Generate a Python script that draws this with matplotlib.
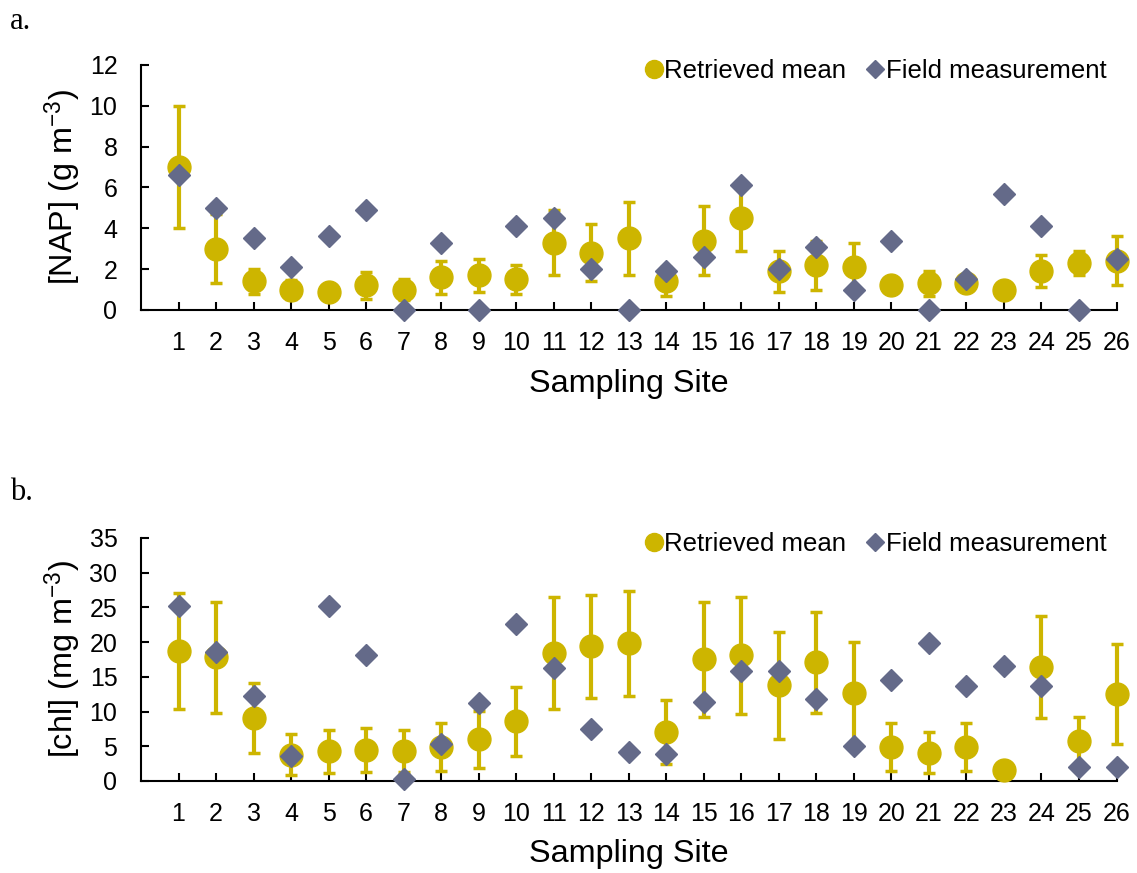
import numpy as np
import matplotlib
matplotlib.use('Agg')
import matplotlib.pyplot as plt
from matplotlib.lines import Line2D

plt.rcParams['font.family'] = ['Liberation Sans', 'DejaVu Sans']
plt.rcParams['mathtext.fontset'] = 'custom'
plt.rcParams['mathtext.rm'] = 'Liberation Sans'
plt.rcParams['mathtext.it'] = 'Liberation Sans'
plt.rcParams['mathtext.default'] = 'regular'

# Sampling sites
sites = list(range(1, 27))

# Panel a: NAP (g m-3)
nap_mean = [7.0, 3.0, 1.4, 1.0, 0.9, 1.2, 1.0, 1.6, 1.7, 1.5, 3.3, 2.8, 3.5,
            1.4, 3.4, 4.5, 1.9, 2.2, 2.1, 1.2, 1.3, 1.3, 1.0, 1.9, 2.3, 2.4]
nap_err = [3.0, 1.7, 0.6, 0.45, 0.3, 0.65, 0.5, 0.8, 0.8, 0.7, 1.6, 1.4, 1.8,
           0.7, 1.7, 1.6, 1.0, 1.2, 1.2, 0.3, 0.6, 0.3, 0.2, 0.8, 0.6, 1.2]
nap_field = [6.6, 5.0, 3.5, 2.1, 3.6, 4.9, 0.0, 3.3, 0.0, 4.1, 4.5, 2.0, 0.0,
             1.9, 2.6, 6.1, 2.0, 3.1, 1.0, 3.4, 0.0, 1.5, 5.7, 4.1, 0.0, 2.5]

# Panel b: chl (mg m-3)
chl_mean = [18.7, 17.8, 9.1, 3.8, 4.3, 4.5, 4.3, 4.9, 6.0, 8.6, 18.4, 19.4, 19.8,
            7.1, 17.5, 18.1, 13.8, 17.1, 12.7, 4.9, 4.1, 4.9, 1.6, 16.4, 5.7, 12.5]
chl_err = [8.4, 8.0, 5.0, 3.0, 3.1, 3.2, 3.0, 3.5, 4.1, 5.0, 8.1, 7.4, 7.5,
           4.6, 8.3, 8.4, 7.7, 7.3, 7.3, 3.4, 2.9, 3.4, 0.0, 7.3, 3.5, 7.2]
chl_field = [25.2, 18.6, 12.3, 3.6, 25.2, 18.1, 0.3, 5.3, 11.3, 22.6, 16.2, 7.5, 4.2,
             3.9, 11.4, 15.8, 15.8, 11.8, 5.0, 14.6, 19.9, 13.7, 16.6, 13.7, 2.0, 2.0]

gold = '#CDB500'
slate = '#646A89'

fig = plt.figure(figsize=(11.37, 8.73), dpi=100)
ax1 = fig.add_axes([0.124, 0.645, 0.858, 0.2806])
ax2 = fig.add_axes([0.124, 0.1054, 0.858, 0.2784])


def draw(ax, mean, err, field, ymax, ystep, ylabel):
    ax.errorbar(sites, mean, yerr=err, fmt='none', ecolor=gold, elinewidth=3,
                capsize=4, capthick=2.5, zorder=2, clip_on=False)
    ax.plot(sites, mean, 'o', color=gold, markersize=16.5, zorder=3, clip_on=False)
    ax.plot(sites, field, 'D', color=slate, markersize=11.5, zorder=4, clip_on=False)
    ax.set_xlim(0, 26)
    ax.set_ylim(0, ymax)
    ax.set_xticks(sites)
    ax.set_yticks(np.arange(0, ymax + 0.1, ystep))
    for s in ['top', 'right']:
        ax.spines[s].set_visible(False)
    for s in ['left', 'bottom']:
        ax.spines[s].set_linewidth(1.5)
    ax.tick_params(axis='both', direction='in', length=5.5, width=1.5, labelsize=18)
    ax.tick_params(axis='y', pad=17)
    ax.tick_params(axis='x', pad=15)
    ax.set_xlabel('Sampling Site', fontsize=23.3)
    ax.xaxis.set_label_coords(0.5, -0.24)
    ax.set_ylabel(ylabel, fontsize=23.3)
    ax.yaxis.set_label_coords(-0.058, 0.5)
    handles = [Line2D([], [], marker='o', ls='', color=gold, markersize=13),
               Line2D([], [], marker='D', ls='', color=slate, markersize=9)]
    ax.legend(handles, ['Retrieved mean', 'Field measurement'], ncol=2,
              loc='upper right', bbox_to_anchor=(1.0, 1.065), frameon=False,
              fontsize=18.5, handlelength=0.6, handletextpad=0.1, columnspacing=0.85,
              borderaxespad=0)


draw(ax1, nap_mean, nap_err, nap_field, 12, 2, '[NAP] (g m$^{-3}$)')
draw(ax2, chl_mean, chl_err, chl_field, 35, 5, '[chl] (mg m$^{-3}$)')

fig.text(0.009, 0.967, 'a.', fontsize=22, family='Liberation Serif', va='baseline')
fig.text(0.009, 0.427, 'b.', fontsize=22, family='Liberation Serif', va='baseline')

fig.savefig('out.png', dpi=100)
